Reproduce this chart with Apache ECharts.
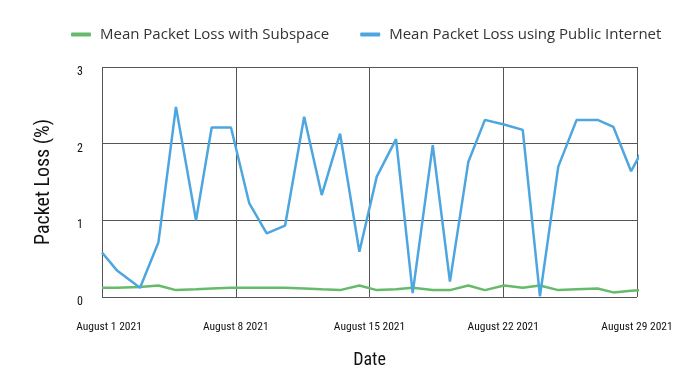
<!DOCTYPE html>
<html>
<head>
<meta charset="utf-8">
<script src="https://cdn.jsdelivr.net/npm/echarts@6/dist/echarts.min.js"></script>
<style>
html,body{margin:0;padding:0;background:#fff;}
#c{width:694px;height:388px;}
</style>
</head>
<body>
<div id="c"></div>
<script>
// Days since August 1 2021 at which each sample was taken
const sampleDays = [0, 0.77, 1.99, 2.95, 3.87, 4.92, 5.74, 6.75, 7.71, 8.62, 9.58, 10.58, 11.50, 12.46, 13.47, 14.38, 15.39, 16.26, 17.31, 18.21, 19.17, 20.04, 21.04, 22.02, 22.92, 23.88, 24.84, 25.94, 26.76, 27.69, 28.68];
const subspaceLoss = [0.12, 0.12, 0.13, 0.15, 0.09, 0.10, 0.11, 0.12, 0.12, 0.12, 0.12, 0.11, 0.10, 0.09, 0.15, 0.09, 0.10, 0.12, 0.09, 0.09, 0.15, 0.09, 0.15, 0.12, 0.15, 0.09, 0.10, 0.11, 0.06, 0.08, 0.10];
const publicLoss = [0.58, 0.35, 0.12, 0.71, 2.48, 1.0, 2.21, 2.21, 1.22, 0.83, 0.93, 2.35, 1.33, 2.13, 0.59, 1.57, 2.06, 0.05, 1.98, 0.2, 1.76, 2.31, 2.25, 2.18, 0.01, 1.70, 2.31, 2.31, 2.22, 1.64, 2.1];
const xTickLabels = ['August 1 2021', 'August 8 2021', 'August 15 2021', 'August 22 2021', 'August 29 2021'];
const yTicks = [0, 1, 2, 3];
const seriesNames = ['Mean Packet Loss with Subspace', 'Mean Packet Loss using Public Internet'];

const condensed = '"Roboto Condensed", "DejaVu Sans Condensed", sans-serif';
const green = '#66bb6a';
const blue = '#4da6df';

const chart = echarts.init(document.getElementById('c'), null, {renderer: 'canvas'});
chart.setOption({
  animation: false,
  backgroundColor: '#fff',
  legend: {
    left: 66,
    top: 22,
    itemWidth: 20,
    itemHeight: 4,
    itemGap: 31,
    icon: 'roundRect',
    textStyle: {fontFamily: '"Open Sans", sans-serif', fontSize: 15, color: '#333', padding: [0, 0, 0, 4]},
    data: seriesNames
  },
  grid: {left: 102, right: 57, top: 67, bottom: 91, containLabel: false},
  xAxis: {
    type: 'value',
    min: 0, max: 28, interval: 7,
    name: 'Date',
    nameLocation: 'middle',
    nameGap: 54,
    nameTextStyle: {fontFamily: condensed, fontSize: 18, color: '#111'},
    axisLine: {show: false},
    axisTick: {show: false},
    axisLabel: {
      margin: 24,
      fontFamily: condensed, fontSize: 11.5, color: '#111',
      formatter: v => {
        const i = Math.round(v / 7);
        return i === 0 ? '{first|' + xTickLabels[i] + '}' : xTickLabels[i];
      },
      rich: {first: {fontFamily: condensed, fontSize: 11.5, color: '#111', padding: [0, 0, 0, 14]}}
    },
    splitLine: {show: true, lineStyle: {color: '#555', width: 1}}
  },
  yAxis: {
    type: 'value',
    min: yTicks[0], max: yTicks[yTicks.length - 1], interval: 1,
    name: 'Packet Loss (%)',
    nameLocation: 'middle',
    nameGap: 48,
    nameTextStyle: {fontFamily: condensed, fontSize: 20, color: '#111'},
    axisLine: {show: false},
    axisTick: {show: false},
    axisLabel: {margin: 19, fontFamily: condensed, fontSize: 12, color: '#111', verticalAlign: 'top', lineHeight: 10},
    splitLine: {show: true, lineStyle: {color: '#555', width: 1}}
  },
  series: [
    {
      name: seriesNames[0], type: 'line', symbol: 'none', clip: true,
      color: green,
      lineStyle: {color: green, width: 2.5},
      data: sampleDays.map((d, i) => [d, subspaceLoss[i]])
    },
    {
      name: seriesNames[1], type: 'line', symbol: 'none', clip: true,
      color: blue,
      lineStyle: {color: blue, width: 2.5},
      data: sampleDays.map((d, i) => [d, publicLoss[i]])
    }
  ]
});
</script>
</body>
</html>
